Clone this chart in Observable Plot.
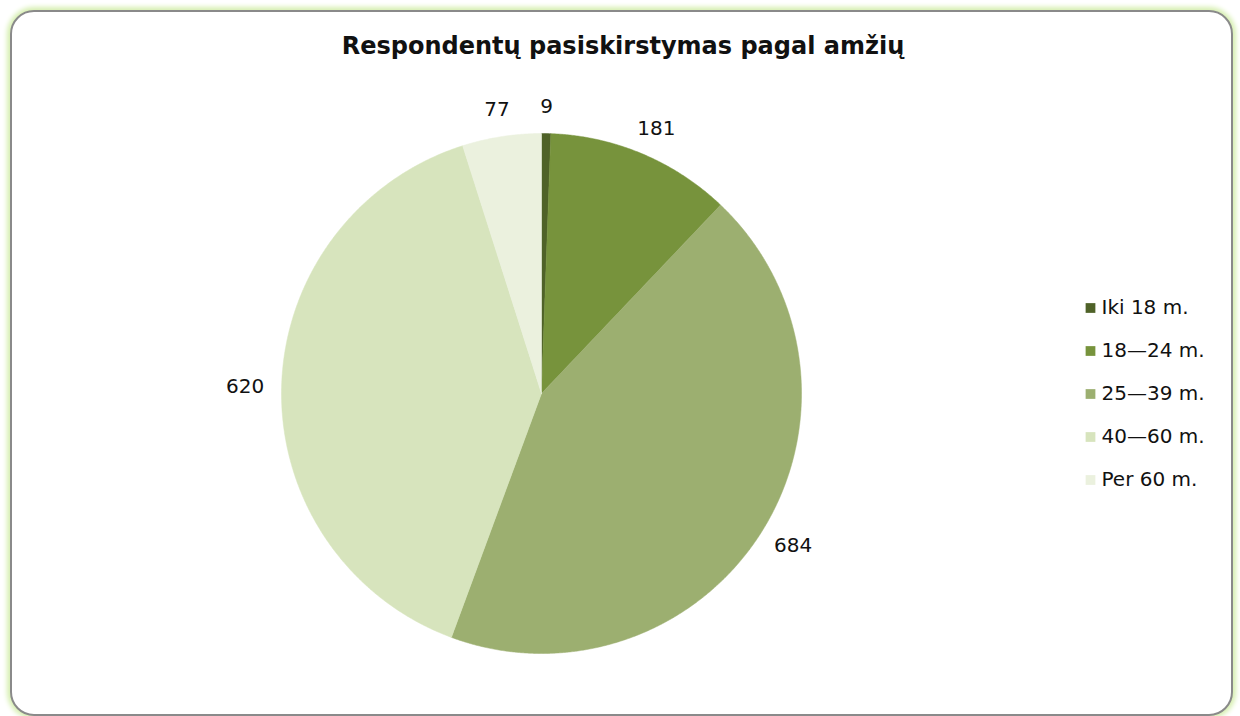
<!DOCTYPE html>
<html>
<head>
<meta charset="utf-8">
<script src="https://cdn.jsdelivr.net/npm/d3@7"></script>
<script src="https://cdn.jsdelivr.net/npm/@observablehq/plot@0.6"></script>
<style>
  html, body { margin: 0; padding: 0; background: #ffffff; }
  #wrap { position: relative; width: 1240px; height: 716px; overflow: hidden; font-family: "DejaVu Sans", sans-serif; }
  #frame { position: absolute; left: 10px; top: 10px; width: 1219px; height: 702px; border: 2px solid #8a8a8a; border-radius: 24px; box-shadow: 0 0 5px 3px #d6efb0; background: #fff; }
  #title { position: absolute; top: 31px; left: 0; width: 1246px; text-align: center; font-weight: bold; font-size: 24px; line-height: 30px; color: #111; }
  #pie { position: absolute; left: 0; top: 0; }
  #legend { position: absolute; left: 1078px; top: 284px; }
</style>
</head>
<body>
<div id="wrap">
  <div id="frame"></div>
  <div id="pie"></div>
  <div id="title">Respondentų pasiskirstymas pagal amžių</div>
  <div id="legend"></div>
</div>
<script>
const categories = ["Iki 18 m.", "18\u201424 m.", "25\u201439 m.", "40\u201460 m.", "Per 60 m."];
const values = [9, 181, 684, 620, 77];
const colors = ["#4f6228", "#77933c", "#9caf70", "#d7e4bd", "#ebf1de"];

const total = d3.sum(values);
let acc = 0;
const slices = categories.map((c, i) => {
  const a0 = acc / total * 2 * Math.PI;
  acc += values[i];
  const a1 = acc / total * 2 * Math.PI;
  return {cat: c, value: values[i], a0, a1, mid: (a0 + a1) / 2};
});

// polygon outline of each slice (center + sampled arc)
const pts = [];
for (const s of slices) {
  pts.push({cat: s.cat, x: 0, y: 0});
  const n = Math.max(2, Math.ceil((s.a1 - s.a0) / 0.005));
  for (let k = 0; k <= n; k++) {
    const a = s.a0 + (s.a1 - s.a0) * k / n;
    pts.push({cat: s.cat, x: Math.sin(a), y: Math.cos(a)});
  }
  pts.push({cat: s.cat, x: 0, y: 0});
}

// outside-end labels: box placed just outside the rim (radius 260px)
const rPx = 260, gap = 17, digitW = 13, textH = 20;
const lx = d => Math.sin(d.mid) * (1 + gap / rPx) + Math.sin(d.mid) * (String(d.value).length * digitW / 2) / rPx;
const ly = d => Math.cos(d.mid) * (1 + gap / rPx) + Math.cos(d.mid) * (textH / 2) / rPx;

const pie = Plot.plot({
  width: 1240,
  height: 716,
  margin: 0,
  x: {domain: [-1, 1], range: [281, 801], axis: null},
  y: {domain: [-1, 1], range: [653, 133], axis: null},
  color: {domain: categories, range: colors},
  style: {background: "transparent", fontFamily: "DejaVu Sans, sans-serif"},
  marks: [
    Plot.line(pts, {x: "x", y: "y", z: "cat", fill: "cat", stroke: "cat", strokeWidth: 0.5, curve: "linear"}),
    Plot.text(slices, {
      x: lx,
      y: ly,
      text: d => String(d.value),
      fontSize: 20,
      fill: "#111"
    })
  ]
});
document.getElementById("pie").appendChild(pie);

const legend = Plot.plot({
  width: 160,
  height: 218,
  margin: 0,
  x: {domain: [0, 1], range: [0, 160], axis: null},
  y: {domain: categories, range: [0, 218], axis: null, type: "band", padding: 0},
  color: {domain: categories, range: colors},
  style: {background: "transparent", fontFamily: "DejaVu Sans, sans-serif"},
  marks: [
    Plot.dot(categories, {x: () => 0, y: d => d, dx: 12, fill: d => d, symbol: "square", r: 5.5}),
    Plot.text(categories, {x: () => 0, y: d => d, dx: 23, text: d => d, textAnchor: "start", fontSize: 20, fill: "#111", style: "letter-spacing:1px"})
  ]
});
document.getElementById("legend").appendChild(legend);
</script>
</body>
</html>
